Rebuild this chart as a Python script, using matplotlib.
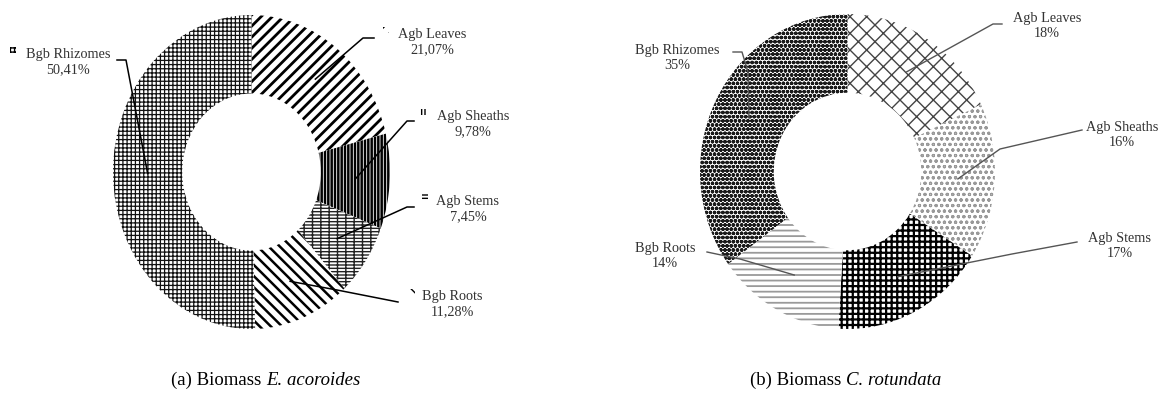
import numpy as np
import matplotlib
matplotlib.use('Agg')
import matplotlib.pyplot as plt
from matplotlib.patches import Rectangle

plt.rcParams['font.family'] = ['Liberation Serif', 'DejaVu Serif']

W, H = 1172, 406

# data
parts = ['Agb Leaves', 'Agb Sheaths', 'Agb Stems', 'Bgb Roots', 'Bgb Rhizomes']
acoroides = [21.07, 9.78, 7.45, 11.28, 50.41]
acoroides_lbl = ['21,07%', '9,78%', '7,45%', '11,28%', '50,41%']
rotundata = [18, 16, 17, 14, 35]
rotundata_lbl = ['18%', '16%', '17%', '14%', '35%']

# hatch styles
hatch_a = ['///', '|||||', '---++', '\\\\\\', '++++']
hcol_a = ['black', 'black', '#222222', 'black', '#111111']
hlw_a = [2.0, 1.8, 1.0, 1.8, 0.9]
hatch_b = ['xx', 'ooo', '+++', '---', 'oooo']
hcol_b = ['#444444', '#999999', 'black', '#9a9a9a', '#1a1a1a']
hlw_b = [1.0, 0.8, 1.6, 1.3, 1.3]


def fpx(x, y):
    return x / W, 1 - y / H


fig = plt.figure(figsize=(W / 100, H / 100), dpi=100)


def donut(box, values, hatches, hcols, hlws):
    x0, y0, x1, y1 = box
    ax = fig.add_axes([x0 / W, 1 - y1 / H, (x1 - x0) / W, (y1 - y0) / H])
    wedges, _ = ax.pie(values, startangle=90, counterclock=False, radius=1,
                       wedgeprops=dict(width=0.5, linewidth=0, facecolor='white'))
    for w, h, c, lw in zip(wedges, hatches, hcols, hlws):
        w.set_hatch(h)
        w.set_edgecolor(c)
        w.set_linewidth(0)
        if hasattr(w, 'set_hatch_linewidth'):
            w.set_hatch_linewidth(lw)
    ax.set_aspect('auto')
    ax.set_xlim(-1, 1)
    ax.set_ylim(-1, 1)
    ax.axis('off')
    # anchor points in the middle of each ring segment
    frac = np.array(values) / np.sum(values)
    ends = np.cumsum(frac)
    mids = (ends - frac / 2) * 360
    ang = np.deg2rad(90 - mids)
    pts = []
    for a in ang:
        disp = ax.transData.transform((0.75 * np.cos(a), 0.75 * np.sin(a)))
        pts.append(fig.transFigure.inverted().transform(disp))
    return ax, pts


def leader(p0, path_px, color, lw):
    xs = [p0[0]] + [fpx(*p)[0] for p in path_px]
    ys = [p0[1]] + [fpx(*p)[1] for p in path_px]
    fig.add_artist(plt.Line2D(xs, ys, color=color, lw=lw, transform=fig.transFigure))


# ---- (a) E. acoroides
ax1, pts1 = donut((113, 16, 390, 330), acoroides, hatch_a, hcol_a, hlw_a)
txt_a = [(432, 42), (473, 124), (468, 209), (452, 304), (68, 62)]
path_a = [[(363, 39), (374, 39)],
          [(407, 122), (414, 122)],
          [(407, 208), (414, 208)],
          [(337, 291), (398, 303)],
          [(126, 61), (117, 61)]]
mark_a = [(386, 31), (423, 113), (425, 198), (412, 293), (13, 51)]
for i in range(5):
    tx, ty = fpx(*txt_a[i])
    fig.text(tx, ty, parts[i] + '\n' + acoroides_lbl[i], ha='center', va='center',
             fontsize=10.3, color='#333333', linespacing=1.25)
    leader(pts1[i], path_a[i], 'black', 1.1)
    # small legend key in front of each label
    mx, my = fpx(*mark_a[i])
    r = Rectangle((mx - 3 / W, my - 3 / H), 6 / W, 6 / H, transform=fig.transFigure,
                  facecolor='white', edgecolor='black', lw=0, hatch=hatch_a[i])
    fig.add_artist(r)

# ---- (b) C. rotundata
ax2, pts2 = donut((700, 15, 995, 330), rotundata, hatch_b, hcol_b, hlw_b)
txt_b = [(1047, 26), (1122, 135), (1120, 246), (665, 256), (677, 58)]
path_b = [[(993, 25), (1002, 25)],
          [(1000, 150), (1082, 131)],
          [(1012, 255), (1077, 243)],
          [(740, 260), (707, 253)],
          [(748, 73), (742, 53), (733, 53)]]
for i in range(5):
    tx, ty = fpx(*txt_b[i])
    fig.text(tx, ty, parts[i] + '\n' + rotundata_lbl[i], ha='center', va='center',
             fontsize=10.3, color='#333333', linespacing=1.25)
    leader(pts2[i], path_b[i], '#555555', 1.0)

# captions: upright part followed by the italic species name
r = fig.canvas.get_renderer()
for xc, plain, species in [(266, '(a) Biomass ', 'E. acoroides'),
                           (846, '(b) Biomass ', 'C. rotundata')]:
    t1 = fig.text(0, 0, plain, fontsize=13.5, va='baseline')
    t2 = fig.text(0, 0, species, fontsize=13.5, style='italic', va='baseline')
    w1 = t1.get_window_extent(r).width
    w2 = t2.get_window_extent(r).width
    x0 = xc - (w1 + w2) / 2
    t1.set_position((x0 / W, 1 - 385 / H))
    t2.set_position(((x0 + w1) / W, 1 - 385 / H))

fig.savefig('out.png', dpi=100, facecolor='white')
